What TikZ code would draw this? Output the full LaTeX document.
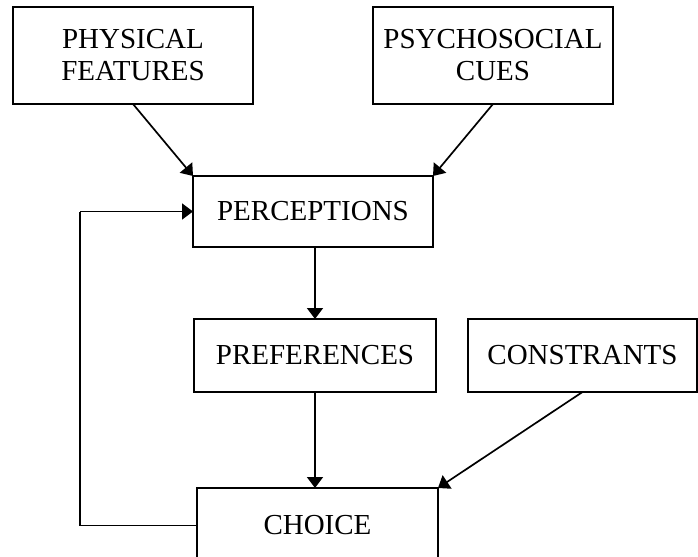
\documentclass[tikz,border=0pt]{standalone}
\usepackage{fontspec}
\setmainfont{Liberation Serif}
\usetikzlibrary{arrows.meta}
\begin{document}
\begin{tikzpicture}[x=0.5pt,y=-0.5pt,
  box/.style={draw, line width=0.85pt, inner sep=0pt, outer sep=0pt, align=center,
    font=\fontsize{14.5}{16}\selectfont},
  conn/.style={line width=0.85pt, -{Triangle[length=5.5pt,width=8pt]}},
  link/.style={line width=0.85pt}]
\useasboundingbox (0,0) rectangle (698,557);
\clip (0,0) rectangle (698,557);
\fill[white] (0,0) rectangle (698,557);
\node[box, minimum width=120pt, minimum height=48.5pt] (phys) at (133,55.5) {\raisebox{-2pt}{PHYSICAL}\\\raisebox{-2pt}{FEATURES}};
\node[box, minimum width=120pt, minimum height=48.5pt] (psy) at (493,55.5) {\raisebox{-2pt}{PSYCHOSOCIAL}\\\raisebox{-2pt}{CUES}};
\node[box, minimum width=120pt, minimum height=35.5pt] (perc) at (313,211.5) {PERCEPTIONS};
\node[box, minimum width=121pt, minimum height=36.5pt] (pref) at (315,355.5) {PREFERENCES};
\node[box, minimum width=114.5pt, minimum height=36.5pt] (cons) at (582.5,355.5) {CONSTRANTS};
\node[box, minimum width=120.5pt, minimum height=37.5pt] (choice) at (317.5,525.5) {CHOICE};
\coordinate (fb) at (80,0);
\draw[conn] (phys.south) -- (perc.north west);
\draw[conn] (psy.south) -- (perc.north east);
\draw[conn] (pref.north |- perc.south) -- (pref.north);
\draw[conn] (pref.south) -- (pref.south |- choice.north);
\draw[conn] (cons.south) -- (choice.north east);
\draw[link] (choice.west) -- (choice.west -| fb) -- (perc.west -| fb);
\draw[conn] (perc.west -| fb) -- (perc.west);
\end{tikzpicture}
\end{document}
